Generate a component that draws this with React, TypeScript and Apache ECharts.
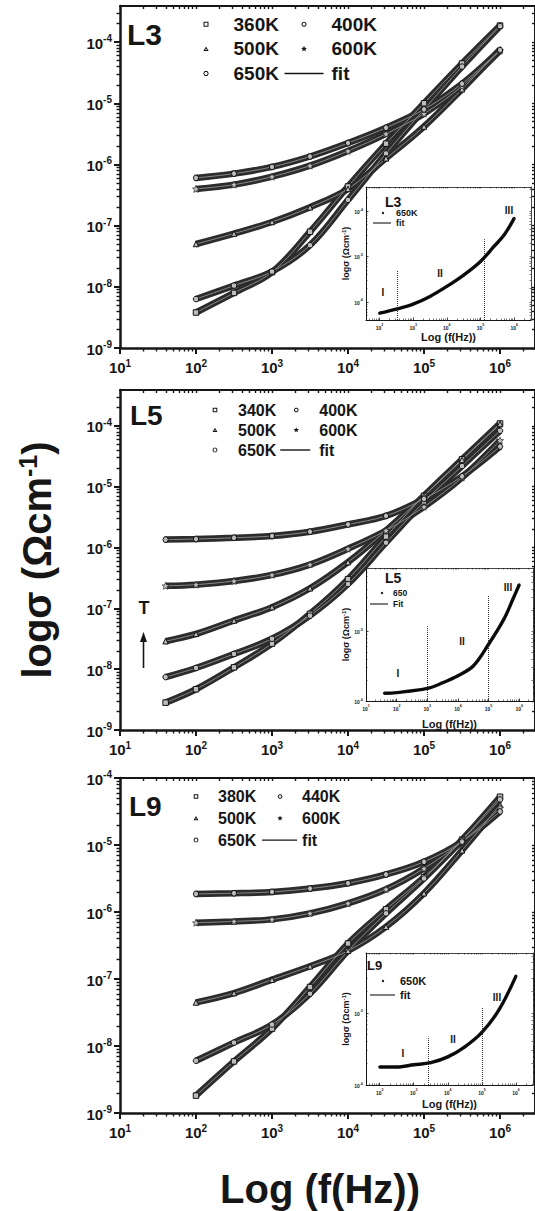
import React, { useEffect, useRef } from 'react';
import * as echarts from 'echarts';

// ---------------- data (log10 units) ----------------
// Panel L3
const P1_LOGF = [2, 2.5, 3, 3.5, 4, 4.5, 5, 5.5, 6];
const P1_360K = [-8.42, -8.1, -7.76, -7.1, -6.36, -5.66, -5.0, -4.35, -3.73];
const P1_400K = [-8.2, -7.98, -7.75, -7.32, -6.58, -5.82, -5.1, -4.4, -3.74];
const P1_500K = [-7.3, -7.13, -6.94, -6.7, -6.4, -5.9, -5.38, -4.77, -4.12];
const P1_600K = [-6.4, -6.33, -6.2, -6.02, -5.78, -5.5, -5.17, -4.72, -4.14];
const P1_650K = [-6.22, -6.15, -6.04, -5.87, -5.65, -5.4, -5.1, -4.68, -4.13];
const P1_TEMPS = ['360K', '400K', '500K', '600K', '650K'];

// Panel L5
const P2_LOGF = [1.6, 2, 2.5, 3, 3.5, 4, 4.5, 5, 5.5, 6];
const P2_340K = [-8.55, -8.33, -7.97, -7.58, -7.09, -6.52, -5.82, -5.15, -4.55, -3.96];
const P2_400K = [-8.13, -7.98, -7.75, -7.5, -7.12, -6.6, -5.92, -5.25, -4.66, -4.08];
const P2_500K = [-7.54, -7.42, -7.2, -6.98, -6.67, -6.24, -5.72, -5.15, -4.56, -3.97];
const P2_600K = [-6.63, -6.61, -6.55, -6.45, -6.28, -6.02, -5.72, -5.33, -4.85, -4.24];
const P2_650K = [-5.87, -5.86, -5.84, -5.81, -5.74, -5.62, -5.48, -5.2, -4.83, -4.34];
const P2_TEMPS = ['340K', '400K', '500K', '600K', '650K'];

// Panel L9
const P3_LOGF = [2, 2.5, 3, 3.5, 4, 4.5, 5, 5.5, 6];
const P3_380K = [-8.74, -8.23, -7.74, -7.12, -6.47, -5.96, -5.48, -4.92, -4.28];
const P3_440K = [-8.22, -7.95, -7.68, -7.22, -6.58, -6.02, -5.5, -4.93, -4.32];
const P3_500K = [-7.35, -7.21, -7.01, -6.81, -6.58, -6.22, -5.72, -5.08, -4.4];
const P3_600K = [-6.16, -6.14, -6.11, -6.02, -5.87, -5.66, -5.35, -4.95, -4.45];
const P3_650K = [-5.73, -5.72, -5.7, -5.65, -5.57, -5.44, -5.25, -4.95, -4.5];
const P3_TEMPS = ['380K', '440K', '500K', '600K', '650K'];

// Insets (650 K)
const IN1_LOGF = [2, 2.5, 3, 3.5, 4, 4.5, 5, 5.4, 5.7, 6];
const IN1_650K = [-6.25, -6.16, -6.05, -5.88, -5.66, -5.41, -5.11, -4.78, -4.53, -4.16];
const IN1_BOUND_F = [2.53, 5.12];
const IN1_BOUND_TOP = [-5.3, -4.62];

const IN2_LOGF = [1.6, 2, 3, 3.5, 4, 4.5, 5, 5.5, 5.8, 6];
const IN2_650 = [-5.89, -5.88, -5.82, -5.74, -5.64, -5.5, -5.19, -4.83, -4.54, -4.34];
const IN2_BOUND_F = [3.0, 5.0];
const IN2_BOUND_TOP = [-4.93, -4.49];

const IN3_LOGF = [2, 2.5, 3, 3.5, 4, 4.5, 5, 5.5, 6];
const IN3_650K = [-5.75, -5.75, -5.72, -5.69, -5.61, -5.47, -5.27, -4.96, -4.49];
const IN3_BOUND_F = [3.44, 5.0];
const IN3_BOUND_TOP = [-5.33, -4.92];

// tick label values (exponents)
const MAIN_X_TICKS = [1, 2, 3, 4, 5, 6];
const MAIN_Y_TICKS = [-9, -8, -7, -6, -5, -4];
const IN1_X_TICKS = [2, 3, 4, 5, 6];
const IN1_Y_TICKS = [-6, -5, -4];
const IN2_X_TICKS = [1, 2, 3, 4, 5, 6];
const IN2_Y_TICKS = [-6, -5];
const IN3_X_TICKS = [2, 3, 4, 5, 6];
const IN3_Y_TICKS = [-6, -5];

const REGION_LABELS = ['I', 'II', 'III'];

// ---------------- layout / style ----------------
const FONT = '"Liberation Sans", Arial, Helvetica, sans-serif';
const INK = '#161616';

const MAIN_GRIDS = [
  { left: 120, top: 6, width: 415, height: 342 },
  { left: 120, top: 390, width: 415, height: 340 },
  { left: 120, top: 778, width: 415, height: 335 },
];
const MAIN_X_RANGE = [1, 6.46];
const MAIN_Y_RANGES = [[-9, -3.41], [-9, -3.41], [-9, -4]];

const INSET_GRIDS = [
  { left: 366, top: 187, width: 165, height: 133 },
  { left: 366, top: 568, width: 167, height: 133 },
  { left: 366, top: 953, width: 167, height: 132 },
];
const INSET_X_RANGES = [[1.6, 6.5], [1, 6.45], [1.6, 6.5]];
const INSET_Y_RANGES = [[-6.4, -3.47], [-6, -4.1], [-6, -4.17]];

// ---------------- helpers ----------------
const pow10 = (v: number) => `{b|10}{s|${Math.round(v)}}`;

function minorValues(lo: number, hi: number): number[] {
  const out: number[] = [];
  for (let n = Math.floor(lo) - 1; n <= Math.ceil(hi); n++) {
    for (let k = 2; k <= 9; k++) {
      const v = n + Math.log10(k);
      if (v > lo + 1e-6 && v < hi - 1e-6) out.push(+v.toFixed(4));
    }
  }
  return out;
}
function majorValues(lo: number, hi: number): number[] {
  const out: number[] = [];
  for (let n = Math.ceil(lo); n <= Math.floor(hi); n++) out.push(n);
  return out;
}

type Pt = [number, number];
function regular(n: number, r: number, cx: number, cy: number, rot: number): Pt[] {
  const pts: Pt[] = [];
  for (let i = 0; i < n; i++) {
    const a = rot + (i * 2 * Math.PI) / n;
    pts.push([cx + r * Math.cos(a), cy + r * Math.sin(a)]);
  }
  return pts;
}
function starPts(R: number, r: number, cx: number, cy: number): Pt[] {
  const pts: Pt[] = [];
  for (let i = 0; i < 10; i++) {
    const a = -Math.PI / 2 + (i * Math.PI) / 5;
    const rr = i % 2 === 0 ? R : r;
    pts.push([cx + rr * Math.cos(a), cy + rr * Math.sin(a)]);
  }
  return pts;
}
const ptsStr = (pts: Pt[]) =>
  pts.map((p, i) => (i ? 'L' : 'M') + p[0].toFixed(2) + ' ' + p[1].toFixed(2)).join('') + 'Z';
const ringStr = (outer: Pt[], inner: Pt[]) => ptsStr(outer) + ptsStr(inner.slice().reverse());

function markerBody(kind: number, cx: number, cy: number, s: number): string {
  const t = 1;
  switch (kind) {
    case 0: {
      const R = s / Math.SQRT2;
      return ringStr(regular(4, R, cx, cy, Math.PI / 4), regular(4, R - t * Math.SQRT2, cx, cy, Math.PI / 4));
    }
    case 1:
      return ringStr(regular(20, s / 2, cx, cy, 0), regular(20, s / 2 - t, cx, cy, 0));
    case 2: {
      const R = s * 0.62;
      return ringStr(regular(3, R, cx, cy + 0.6, -Math.PI / 2), regular(3, R - 2 * t, cx, cy + 0.6, -Math.PI / 2));
    }
    case 3:
      return ptsStr(starPts(s * 0.62, s * 0.28, cx, cy));
    default:
      return ringStr(regular(6, s / 2 + 0.3, cx, cy, 0), regular(6, s / 2 + 0.3 - t, cx, cy, 0));
  }
}
const boxed = (W: number, H: number, body: string) => `path://M0 0M${W} ${H}${body}`;
const fitIcon = (W: number, H: number, len: number, th = 1.4) =>
  boxed(W, H, ptsStr([[0, H / 2 - th / 2], [len, H / 2 - th / 2], [len, H / 2 + th / 2], [0, H / 2 + th / 2]]));
const dotIcon = (W: number, H: number, cx: number, r: number) => boxed(W, H, ptsStr(regular(12, r, cx, H / 2, 0)));

const STAR_SYMBOL = 'path://' + ptsStr(starPts(5, 2.3, 5, 5));
const HEX_SYMBOL = 'path://' + ptsStr(regular(6, 5, 5, 5, 0));
const MAIN_SYMBOLS = ['rect', 'circle', 'triangle', STAR_SYMBOL, HEX_SYMBOL];

const zip = (xs: number[], ys: number[]) => xs.map((x, i) => [x, ys[i]]);

function buildOption() {
  const grid: any[] = [];
  const xAxis: any[] = [];
  const yAxis: any[] = [];
  const series: any[] = [];
  const legend: any[] = [];
  const graphic: any[] = [];

  const rich = (base: number, sup: number, pad: number) => ({
    b: { fontSize: base, fontWeight: 'bold', fontFamily: FONT, color: INK, lineHeight: base + 2, verticalAlign: 'bottom' },
    s: { fontSize: sup, fontWeight: 'bold', fontFamily: FONT, color: INK, lineHeight: sup, verticalAlign: 'top', padding: [0, 0, pad, 0] },
  });

  function frame(gi: number, xr: number[], yr: number[], st: any, xTicks: number[], yTicks: number[], extra: any = {}) {
    const z = st.z;
    const r = rich(st.base, st.sup, st.pad);
    const xMinor = minorValues(xr[0], xr[1]);
    const yMinor = minorValues(yr[0], yr[1]);
    const xAll = majorValues(xr[0], xr[1]).concat(xMinor);
    const yAll = majorValues(yr[0], yr[1]).concat(yMinor);
    const common = { type: 'value', gridIndex: gi, z, splitLine: { show: false }, axisPointer: { show: false } };
    const xi = xAxis.length;
    xAxis.push({
      ...common, min: xr[0], max: xr[1], position: 'bottom',
      axisLine: { show: true, onZero: false, lineStyle: { color: INK, width: st.lw } },
      axisTick: { show: true, inside: st.inside, customValues: xTicks, length: st.majorLen, lineStyle: { color: INK, width: st.tickW } },
      axisLabel: { show: true, customValues: xTicks, margin: st.xMargin, formatter: pow10, rich: r },
      ...(extra.xName || {}),
    });
    xAxis.push({
      ...common, min: xr[0], max: xr[1], position: 'bottom',
      axisLine: { show: false, onZero: false },
      axisTick: { show: true, inside: st.inside, customValues: xMinor, length: st.minorLen, lineStyle: { color: INK, width: st.minorW } },
      axisLabel: { show: false },
    });
    xAxis.push({
      ...common, min: xr[0], max: xr[1], position: 'top',
      axisLine: { show: true, onZero: false, lineStyle: { color: INK, width: st.lw * 0.8 } },
      axisTick: { show: true, inside: true, customValues: xAll, length: st.edgeLen, lineStyle: { color: INK, width: st.minorW } },
      axisLabel: { show: false },
    });
    const yi = yAxis.length;
    yAxis.push({
      ...common, min: yr[0], max: yr[1], position: 'left',
      axisLine: { show: true, onZero: false, lineStyle: { color: INK, width: st.lw } },
      axisTick: { show: true, inside: st.inside, customValues: yTicks, length: st.majorLen, lineStyle: { color: INK, width: st.tickW } },
      axisLabel: { show: true, customValues: yTicks, margin: st.yMargin, formatter: pow10, rich: r },
      ...(extra.yName || {}),
    });
    yAxis.push({
      ...common, min: yr[0], max: yr[1], position: 'left',
      axisLine: { show: false, onZero: false },
      axisTick: { show: true, inside: st.inside, customValues: yMinor, length: st.minorLen, lineStyle: { color: INK, width: st.minorW } },
      axisLabel: { show: false },
    });
    yAxis.push({
      ...common, min: yr[0], max: yr[1], position: 'right',
      axisLine: { show: true, onZero: false, lineStyle: { color: INK, width: st.lw * 0.8 } },
      axisTick: { show: true, inside: true, customValues: yAll, length: st.edgeLen, lineStyle: { color: INK, width: st.minorW } },
      axisLabel: { show: false },
    });
    return { xi, yi };
  }

  const MAIN_STYLE = { z: 0, lw: 2.5, tickW: 2, minorW: 1.4, majorLen: 6, minorLen: 3.5, edgeLen: 3, inside: false, base: 15, sup: 10, pad: 7, xMargin: 10, yMargin: 8 };
  const INSET_STYLE = { z: 5, lw: 1, tickW: 0.8, minorW: 0.6, majorLen: 2.5, minorLen: 1.5, edgeLen: 1.5, inside: true, base: 5, sup: 3.5, pad: 3, xMargin: 3, yMargin: 3 };

  const supName = (size: number, sup: number, pad: number) => ({
    fontSize: size, fontWeight: 'bold', fontFamily: FONT, color: INK,
    rich: { s: { fontSize: sup, fontWeight: 'bold', fontFamily: FONT, color: INK, verticalAlign: 'top', padding: [0, 0, pad, 0] } },
  });

  const PANEL_DATA = [
    { logf: P1_LOGF, vals: [P1_360K, P1_400K, P1_500K, P1_600K, P1_650K], temps: P1_TEMPS },
    { logf: P2_LOGF, vals: [P2_340K, P2_400K, P2_500K, P2_600K, P2_650K], temps: P2_TEMPS },
    { logf: P3_LOGF, vals: [P3_380K, P3_440K, P3_500K, P3_600K, P3_650K], temps: P3_TEMPS },
  ];

  const LEGEND_LAYOUT = [
    { left: 186.5, top: 14.8, W: 42, H: 10, line: 39, cx: 19.5, s: 5, gap: 5.6, font: 19, lh: 19, width: 200 },
    { left: 199, top: 402, W: 34, H: 10, line: 30, cx: 16, s: 4.6, gap: 4, font: 16, lh: 16, width: 170 },
    { left: 178, top: 788.5, W: 35, H: 10, line: 35, cx: 18, s: 4.6, gap: 5.8, font: 16, lh: 15, width: 180 },
  ];

  // ---- main panels ----
  PANEL_DATA.forEach((p, gi) => {
    grid.push({ ...MAIN_GRIDS[gi], containLabel: false, show: false });
    const extra: any = {};
    if (gi === 1) {
      extra.yName = {
        name: 'logσ (Ωcm{s|-1})', nameLocation: 'middle', nameRotate: 90, nameGap: 62,
        nameTextStyle: supName(40, 25, 18),
      };
    }
    const { xi, yi } = frame(gi, MAIN_X_RANGE, MAIN_Y_RANGES[gi], MAIN_STYLE, MAIN_X_TICKS, MAIN_Y_TICKS, extra);
    p.vals.forEach((vals, k) => {
      series.push({
        type: 'line', name: p.temps[k], xAxisIndex: xi, yAxisIndex: yi, z: 2,
        data: zip(p.logf, vals), smooth: 0.35, symbol: MAIN_SYMBOLS[k], symbolSize: k === 3 ? 7 : 5.5,
        showAllSymbol: true, silent: true,
        lineStyle: { width: 6.5, color: '#2c2c2c' },
        itemStyle: { color: '#bdbdbd', borderColor: '#111', borderWidth: k === 3 ? 0.6 : 1 },
      });
    });
    p.vals.forEach((vals) => {
      series.push({
        type: 'line', name: 'fit', xAxisIndex: xi, yAxisIndex: yi, z: 2,
        data: zip(p.logf, vals), smooth: 0.35, showSymbol: false, silent: true,
        lineStyle: { width: 1, color: '#8a8a8a' }, itemStyle: { color: '#111' },
      });
    });
    const L = LEGEND_LAYOUT[gi];
    legend.push({
      left: L.left, top: L.top, width: L.width, orient: 'horizontal', padding: 0,
      itemWidth: L.W, itemHeight: L.H, itemGap: L.gap, selectedMode: false,
      itemStyle: { color: INK, borderWidth: 0 },
      textStyle: { fontSize: L.font, lineHeight: L.lh, fontWeight: 'bold', fontFamily: FONT, color: INK },
      data: p.temps
        .map((n, k) => ({ name: n, icon: boxed(L.W, L.H, markerBody(k, L.cx, L.H / 2, L.s)) }))
        .concat([{ name: 'fit', icon: fitIcon(L.W, L.H, L.line) }]),
    });
  });

  // ---- insets ----
  const INSET_DATA = [
    { logf: IN1_LOGF, vals: IN1_650K, name: '650K', fit: 'fit', bf: IN1_BOUND_F, bt: IN1_BOUND_TOP, xt: IN1_X_TICKS, yt: IN1_Y_TICKS },
    { logf: IN2_LOGF, vals: IN2_650, name: '650', fit: 'Fit', bf: IN2_BOUND_F, bt: IN2_BOUND_TOP, xt: IN2_X_TICKS, yt: IN2_Y_TICKS },
    { logf: IN3_LOGF, vals: IN3_650K, name: '650K', fit: 'fit', bf: IN3_BOUND_F, bt: IN3_BOUND_TOP, xt: IN3_X_TICKS, yt: IN3_Y_TICKS },
  ];
  const INSET_NAME_GAPS = [[11, 13], [17, 15], [13, 14]];
  const INSET_LEGEND = [
    { left: 373, top: 208.5, W: 18, H: 8, cx: 10, line: 18, font: 9, lh: 9, gap: 1 },
    { left: 370, top: 588.5, W: 18, H: 8, cx: 12, line: 18, font: 8.5, lh: 9, gap: 2 },
    { left: 370, top: 975.5, W: 25, H: 8, cx: 13, line: 25, font: 11, lh: 11, gap: 3 },
  ];
  INSET_DATA.forEach((d, k) => {
    const gi = grid.length;
    grid.push({ ...INSET_GRIDS[k], containLabel: false, show: true, backgroundColor: '#ffffff', borderWidth: 0, z: 3 });
    const [gx, gy] = INSET_NAME_GAPS[k];
    const { xi, yi } = frame(gi, INSET_X_RANGES[k], INSET_Y_RANGES[k], INSET_STYLE, d.xt, d.yt, {
      xName: { name: 'Log (f(Hz))', nameLocation: 'middle', nameGap: gx, nameTextStyle: { fontSize: 11, fontWeight: 'bold', fontFamily: FONT, color: INK } },
      yName: { name: 'logσ (Ωcm{s|-1})', nameLocation: 'middle', nameRotate: 90, nameGap: gy, nameTextStyle: supName(9, 6, 4) },
    });
    const ymin = INSET_Y_RANGES[k][0];
    series.push({
      type: 'line', name: d.name, xAxisIndex: xi, yAxisIndex: yi, z: 6,
      data: zip(d.logf, d.vals), smooth: 0.35, symbol: 'circle', symbolSize: 3, showAllSymbol: true, silent: true,
      lineStyle: { width: 3.4, color: '#111' }, itemStyle: { color: '#111' },
      markLine: {
        silent: true, symbol: ['none', 'none'], label: { show: false }, z: 6,
        lineStyle: { type: 'dotted', color: '#333', width: 1 },
        data: d.bf.map((f, i) => [{ coord: [f, ymin] }, { coord: [f, d.bt[i]] }]),
      },
    });
    series.push({
      type: 'line', name: d.fit, xAxisIndex: xi, yAxisIndex: yi, z: 6,
      data: zip(d.logf, d.vals), smooth: 0.35, showSymbol: false, silent: true,
      lineStyle: { width: 1, color: '#000' }, itemStyle: { color: '#000' },
    });
    const L = INSET_LEGEND[k];
    legend.push({
      left: L.left, top: L.top, orient: 'vertical', padding: 0, z: 8,
      itemWidth: L.W, itemHeight: L.H, itemGap: L.gap, selectedMode: false,
      itemStyle: { color: INK, borderWidth: 0 },
      textStyle: { fontSize: L.font, lineHeight: L.lh, fontWeight: 'bold', fontFamily: FONT, color: INK },
      data: [
        { name: d.name, icon: dotIcon(L.W, L.H, L.cx, 1.2) },
        { name: d.fit, icon: fitIcon(L.W, L.H, L.line, 1.1) },
      ],
    });
  });

  // ---- annotation texts ----
  const txt = (text: string, x: number, y: number, size: number, align = 'left') => ({
    type: 'text', x, y, z: 10, silent: true,
    style: { text, fontSize: size, fontWeight: 'bold', fontFamily: FONT, fill: INK, align, verticalAlign: 'middle' },
  });
  graphic.push(txt('L3', 127, 34, 30));
  graphic.push(txt('L5', 130, 415, 28));
  graphic.push(txt('L9', 129, 806, 28));
  graphic.push(txt('L3', 385, 202, 14));
  graphic.push(txt('L5', 385, 578, 14));
  graphic.push(txt('L9', 367, 965, 13));
  const REGION_POS = [
    [[383, 292], [440, 273], [509, 210]],
    [[398, 673], [462, 641], [508, 587]],
    [[403, 1053], [453, 1039], [497, 997]],
  ];
  REGION_POS.forEach((ps) => ps.forEach((p, i) => graphic.push(txt(REGION_LABELS[i], p[0], p[1], 10, 'center'))));
  graphic.push(txt('T', 144, 608, 18, 'center'));
  graphic.push({ type: 'line', z: 10, silent: true, shape: { x1: 143.5, y1: 668, x2: 143.5, y2: 640 }, style: { stroke: INK, lineWidth: 1.6 } });
  graphic.push({ type: 'polygon', z: 10, silent: true, shape: { points: [[143.5, 632], [140, 642], [147, 642]] }, style: { fill: INK } });
  graphic.push(txt('Log (f(Hz))', 320, 1189, 40, 'center'));

  return {
    animation: false,
    backgroundColor: '#ffffff',
    textStyle: { fontFamily: FONT },
    grid, xAxis, yAxis, series, legend, graphic,
  };
}

export default function App() {
  const ref = useRef<HTMLDivElement>(null);
  useEffect(() => {
    const chart = echarts.init(ref.current!, undefined, { renderer: 'svg' });
    chart.setOption(buildOption() as any);
    return () => chart.dispose();
  }, []);
  return (
    <div
      ref={ref}
      style={{ position: 'absolute', left: 0, top: 0, width: 535, height: 1211, background: '#fff' }}
    />
  );
}
